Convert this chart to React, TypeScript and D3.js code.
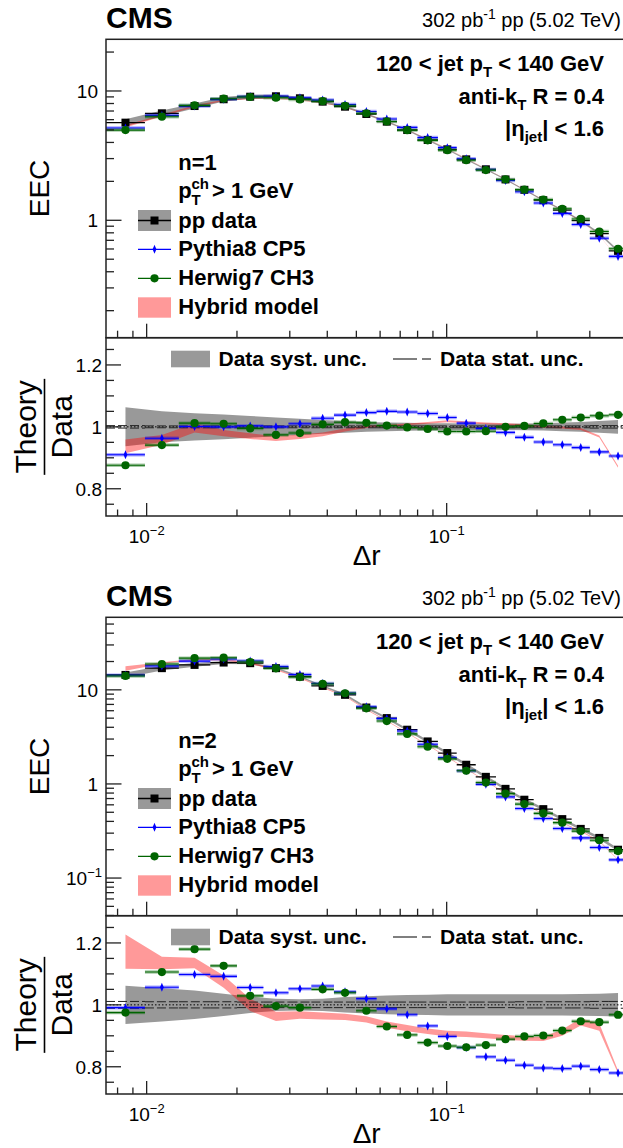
import React from 'react';
import * as d3 from 'd3';

// Δr bin edges, shared by both figures
const binEdges = [0.00732, 0.00987, 0.0128, 0.0163, 0.02, 0.0245, 0.0297, 0.0354, 0.0421, 0.0499, 0.0584, 0.0683,
  0.0799, 0.0935, 0.108, 0.125, 0.146, 0.169, 0.195, 0.226, 0.261, 0.3, 0.347, 0.4];

// n = 1
const eecData1 = [5.69, 6.72, 7.65, 8.63, 9.03, 9.1, 8.78, 8.27, 7.56, 6.64, 5.79, 4.99, 4.18, 3.54, 2.96, 2.48,
  2.07, 1.72, 1.43, 1.2, 0.994, 0.79, 0.58];
const systData1 = [0.063, 0.05, 0.044, 0.04, 0.035, 0.03, 0.026, 0.022, 0.019, 0.016, 0.014, 0.013, 0.012, 0.012,
  0.011, 0.011, 0.01, 0.011, 0.012, 0.014, 0.016, 0.019, 0.022];
const statData1 = [0.004, 0.003, 0.003, 0.003, 0.003, 0.003, 0.003, 0.003, 0.003, 0.003, 0.003, 0.003, 0.003, 0.003,
  0.003, 0.003, 0.003, 0.003, 0.003, 0.003, 0.003, 0.004, 0.004];
const pythiaRatio1 = [0.91, 0.963, 1.001, 1.0, 1.003, 1.0, 1.01, 1.028, 1.038, 1.046, 1.05, 1.048, 1.043, 1.03, 1.012,
  0.995, 0.982, 0.966, 0.951, 0.942, 0.933, 0.919, 0.906];
const herwigRatio1 = [0.876, 0.941, 1.012, 1.01, 0.995, 0.974, 0.98, 1.008, 1.015, 1.013, 1.004, 0.998, 0.993, 0.985,
  0.985, 0.986, 1.0, 1.003, 1.011, 1.023, 1.03, 1.036, 1.039];
const hybridRatio1 = [0.937, 0.958, 0.997, 0.98, 0.97, 0.962, 0.968, 0.976, 0.99, 1.0, 1.004, 1.008, 1.013, 1.018,
  1.015, 1.011, 1.009, 1.005, 1.0, 0.998, 0.993, 0.969, 0.871];
const hybridErr1 = [0.022, 0.016, 0.015, 0.01, 0.009, 0.008, 0.007, 0.006, 0.005, 0.004, 0.003, 0.003, 0.003, 0.003,
  0.003, 0.003, 0.003, 0.003, 0.003, 0.003, 0.003, 0.003, 0.003];

// n = 2
const eecData2 = [14.4, 17.0, 18.4, 19.5, 19.2, 17.0, 13.8, 11.0, 8.85, 6.49, 5.01, 3.77, 2.83, 2.13, 1.6, 1.19,
  0.887, 0.68, 0.54, 0.423, 0.333, 0.267, 0.2];
const systData2 = [0.062, 0.054, 0.046, 0.036, 0.026, 0.02, 0.018, 0.02, 0.025, 0.028, 0.03, 0.032, 0.033, 0.034,
  0.034, 0.034, 0.034, 0.034, 0.034, 0.034, 0.035, 0.036, 0.038];
const statData2 = [0.011, 0.01, 0.01, 0.01, 0.009, 0.009, 0.009, 0.009, 0.009, 0.009, 0.009, 0.009, 0.009, 0.009,
  0.009, 0.009, 0.009, 0.01, 0.01, 0.01, 0.01, 0.011, 0.011];
const pythiaRatio2 = [0.991, 1.057, 1.098, 1.092, 1.056, 1.039, 1.052, 1.061, 1.042, 1.02, 0.987, 0.968, 0.932,
  0.898, 0.862, 0.832, 0.821, 0.805, 0.796, 0.794, 0.802, 0.791, 0.78];
const herwigRatio2 = [0.975, 1.106, 1.18, 1.126, 1.029, 0.996, 0.991, 1.05, 1.039, 0.981, 0.93, 0.903, 0.878, 0.867,
  0.863, 0.87, 0.889, 0.898, 0.901, 0.917, 0.947, 0.944, 0.968];
const hybridRatio2 = [1.172, 1.135, 1.135, 1.075, 1.0, 0.963, 0.967, 0.964, 0.961, 0.953, 0.936, 0.925, 0.915, 0.907,
  0.905, 0.9, 0.895, 0.891, 0.89, 0.91, 0.945, 0.928, 0.783];
const hybridErr2 = [0.055, 0.02, 0.017, 0.02, 0.02, 0.015, 0.012, 0.011, 0.01, 0.01, 0.01, 0.01, 0.009, 0.009, 0.009,
  0.008, 0.008, 0.007, 0.007, 0.01, 0.012, 0.012, 0.005];

const eecRange1 = [0.1236, 25.1];
const eecRange2 = [0.0398, 59];
const eecTicks1 = [1, 10];
const eecTicks2 = [0.1, 1, 10];
const ratioRange = [0.712, 1.288];
const ratioTicks = [0.8, 1, 1.2];
const xMajorTicks = [0.01, 0.1];

const FONT = "'Liberation Sans', Arial, Helvetica, sans-serif";
const X0 = 106, X1 = 627.3;
const UP_TOP = 39.3, UP_BOT = 337.7, R_BOT = 516;
const AXIS = '#222';
const GREEN = '#006400';

function expLabel(v) {
  const e = Math.round(Math.log10(v));
  if (e >= 0) return { base: String(Math.round(v)), sup: '' };
  return { base: '10', sup: '\u2212' + String(-e) };
}

function Panel({ top, n, eec, syst, stat, pythia, herwig, hybrid, hybridErr, yRange, yTicks }) {
  const x = d3.scaleLog().domain([binEdges[0], binEdges[binEdges.length - 1]]).range([X0, X1]);
  const y = d3.scaleLog().domain(yRange).range([UP_BOT, UP_TOP]);
  const r = d3.scaleLinear().domain(ratioRange).range([R_BOT, UP_BOT]);

  const bins = eec.map((v, i) => {
    const lo = binEdges[i], hi = binEdges[i + 1];
    return { lo, hi, c: Math.sqrt(lo * hi), v, s: syst[i], st: stat[i], py: pythia[i], hw: herwig[i], hy: hybrid[i], he: hybridErr[i] };
  });

  const band = (y0, y1) => d3.area().x(d => x(d.c)).y0(y0).y1(y1)(bins);
  const systUp = band(d => y(d.v * (1 - d.s)), d => y(d.v * (1 + d.s)));
  const hybUp = band(d => y(d.v * d.hy * (1 - d.he)), d => y(d.v * d.hy * (1 + d.he)));
  const systR = band(d => r(1 - d.s), d => r(1 + d.s));
  const hybR = band(d => r(d.hy - d.he), d => r(d.hy + d.he));

  const xMinor = x.ticks().filter(t => !xMajorTicks.some(m => Math.abs(m - t) < 1e-9));
  const yMinor = y.ticks().filter(t => !yTicks.some(m => Math.abs(m - t) / m < 1e-6));
  const rMinor = r.ticks(12).filter(t => !ratioTicks.some(m => Math.abs(m - t) < 1e-6));

  const diamond = 'M0,-4.5L1.9,0L0,4.5L-1.9,0Z';
  const clipU = `clipU${n}`, clipR = `clipR${n}`;

  return (
    <g transform={`translate(0,${top})`} fontFamily={FONT}>
      <defs>
        <clipPath id={clipU}><rect x={X0} y={UP_TOP} width={X1 - X0} height={UP_BOT - UP_TOP} /></clipPath>
        <clipPath id={clipR}><rect x={X0} y={UP_BOT} width={X1 - X0} height={R_BOT - UP_BOT} /></clipPath>
      </defs>

      {/* header */}
      <text x={X0} y={28} fontSize={30} fontWeight="bold">CMS</text>
      <text x={621} y={27} fontSize={20} textAnchor="end">
        302 pb<tspan fontSize={14} dy={-8}>-1</tspan><tspan dy={8}> pp (5.02 TeV)</tspan>
      </text>

      {/* upper pad */}
      <g clipPath={`url(#${clipU})`}>
        <path d={systUp} fill="#999999" />
        <path d={hybUp} fill="rgba(255,0,0,0.4)" />
        {bins.map((d, i) => (
          <g key={'d' + i}>
            <line x1={x(d.lo)} x2={x(d.hi)} y1={y(d.v)} y2={y(d.v)} stroke="#000" strokeWidth={1.3} />
            <rect x={x(d.c) - 4} y={y(d.v) - 4} width={8} height={8} fill="#000" />
          </g>
        ))}
        {bins.map((d, i) => (
          <g key={'p' + i}>
            <line x1={x(d.lo)} x2={x(d.hi)} y1={y(d.v * d.py)} y2={y(d.v * d.py)} stroke="rgba(0,0,255,0.35)" strokeWidth={3.5} />
            <line x1={x(d.lo)} x2={x(d.hi)} y1={y(d.v * d.py)} y2={y(d.v * d.py)} stroke="#0000ff" strokeWidth={1.1} />
            <path d={diamond} transform={`translate(${x(d.c)},${y(d.v * d.py)})`} fill="#0000ff" />
          </g>
        ))}
        {bins.map((d, i) => (
          <g key={'h' + i}>
            <line x1={x(d.lo)} x2={x(d.hi)} y1={y(d.v * d.hw)} y2={y(d.v * d.hw)} stroke="rgba(0,100,0,0.35)" strokeWidth={3.5} />
            <line x1={x(d.lo)} x2={x(d.hi)} y1={y(d.v * d.hw)} y2={y(d.v * d.hw)} stroke={GREEN} strokeWidth={1.1} />
            <circle cx={x(d.c)} cy={y(d.v * d.hw)} r={4.1} fill={GREEN} />
          </g>
        ))}
      </g>

      {/* ratio pad */}
      <g clipPath={`url(#${clipR})`}>
        <path d={systR} fill="#999999" />
        <path d={hybR} fill="rgba(255,0,0,0.4)" />
        <line x1={X0} x2={X1} y1={r(1)} y2={r(1)} stroke="#000" strokeWidth={1} strokeDasharray="1.5 2" />
        {bins.map((d, i) => (
          <g key={'s' + i} stroke="#222" strokeWidth={1} strokeDasharray="9 3" fill="none">
            <line x1={x(d.lo)} x2={x(d.hi)} y1={r(1 + d.st)} y2={r(1 + d.st)} />
            <line x1={x(d.lo)} x2={x(d.hi)} y1={r(1 - d.st)} y2={r(1 - d.st)} />
          </g>
        ))}
        {bins.map((d, i) => (
          <g key={'rp' + i}>
            <line x1={x(d.lo)} x2={x(d.hi)} y1={r(d.py)} y2={r(d.py)} stroke="rgba(0,0,255,0.35)" strokeWidth={3.5} />
            <line x1={x(d.lo)} x2={x(d.hi)} y1={r(d.py)} y2={r(d.py)} stroke="#0000ff" strokeWidth={1.1} />
            <path d={diamond} transform={`translate(${x(d.c)},${r(d.py)})`} fill="#0000ff" />
          </g>
        ))}
        {bins.map((d, i) => (
          <g key={'rh' + i}>
            <line x1={x(d.lo)} x2={x(d.hi)} y1={r(d.hw)} y2={r(d.hw)} stroke="rgba(0,100,0,0.35)" strokeWidth={3.5} />
            <line x1={x(d.lo)} x2={x(d.hi)} y1={r(d.hw)} y2={r(d.hw)} stroke={GREEN} strokeWidth={1.1} />
            <circle cx={x(d.c)} cy={r(d.hw)} r={4.1} fill={GREEN} />
          </g>
        ))}
      </g>

      {/* frames */}
      <g stroke={AXIS} strokeWidth={1.5} fill="none">
        <rect x={X0} y={UP_TOP} width={X1 - X0} height={UP_BOT - UP_TOP} />
        <rect x={X0} y={UP_BOT} width={X1 - X0} height={R_BOT - UP_BOT} />
      </g>

      {/* ticks */}
      <g stroke={AXIS} strokeWidth={1.3}>
        {yTicks.map(t => <line key={'yt' + t} x1={X0} x2={X0 + 15.5} y1={y(t)} y2={y(t)} />)}
        {yMinor.map(t => <line key={'ym' + t} x1={X0} x2={X0 + 8} y1={y(t)} y2={y(t)} />)}
        {xMajorTicks.map(t => <line key={'xu' + t} x1={x(t)} x2={x(t)} y1={UP_BOT} y2={UP_BOT - 14} />)}
        {xMinor.map(t => <line key={'xum' + t} x1={x(t)} x2={x(t)} y1={UP_BOT} y2={UP_BOT - 7} />)}
        {xMajorTicks.map(t => <line key={'xr' + t} x1={x(t)} x2={x(t)} y1={R_BOT} y2={R_BOT - 13} />)}
        {xMinor.map(t => <line key={'xrm' + t} x1={x(t)} x2={x(t)} y1={R_BOT} y2={R_BOT - 6.5} />)}
        {ratioTicks.map(t => <line key={'rt' + t} x1={X0} x2={X0 + 15} y1={r(t)} y2={r(t)} />)}
        {rMinor.map(t => <line key={'rm' + t} x1={X0} x2={X0 + 8} y1={r(t)} y2={r(t)} />)}
      </g>

      {/* tick labels */}
      <g fontSize={19}>
        {yTicks.map(t => {
          const l = expLabel(t);
          return (
            <text key={'yl' + t} x={l.sup ? 102 : 98} y={y(t) + 7} textAnchor="end">
              {l.base}{l.sup && <tspan fontSize={13} dy={-8}>{l.sup}</tspan>}
            </text>
          );
        })}
        {ratioTicks.map(t => (
          <text key={'rl' + t} x={102} y={r(t) + 7} textAnchor="end">{String(t)}</text>
        ))}
        {xMajorTicks.map(t => {
          const l = expLabel(t);
          return (
            <text key={'xl' + t} x={x(t)} y={543} textAnchor="middle">
              {l.base}<tspan fontSize={13} dy={-8}>{l.sup}</tspan>
            </text>
          );
        })}
      </g>

      {/* axis titles */}
      <text transform={`translate(0,${(UP_TOP + UP_BOT) / 2}) rotate(-90)`} x={0} y={49} fontSize={28} textAnchor="middle">EEC</text>
      <g transform={`translate(0,${(UP_BOT + R_BOT) / 2}) rotate(-90)`}>
        <text x={0} y={35.5} fontSize={30} textAnchor="middle">Theory</text>
        <line x1={-48} x2={48} y1={44.5} y2={44.5} stroke="#000" strokeWidth={1.6} />
        <text x={0} y={71.5} fontSize={30} textAnchor="middle">Data</text>
      </g>
      <text x={(X0 + X1) / 2} y={565} fontSize={28} textAnchor="middle">{'\u0394r'}</text>

      {/* info text */}
      <g fontSize={22} fontWeight="bold" textAnchor="end">
        <text x={604} y={71}>120 &lt; jet p<tspan fontSize={15} dy={6}>T</tspan><tspan dy={-6}> &lt; 140 GeV</tspan></text>
        <text x={604} y={104}>anti-k<tspan fontSize={15} dy={6}>T</tspan><tspan dy={-6}> R = 0.4</tspan></text>
        <text x={604} y={136}>|{'\u03b7'}<tspan fontSize={15} dy={6}>jet</tspan><tspan dy={-6}>| &lt; 1.6</tspan></text>
      </g>

      {/* legend */}
      <g fontSize={22} fontWeight="bold">
        <text x={178.3} y={170}>{`n=${n}`}</text>
        <text x={178.3} y={198.3}>p</text>
        <text x={191.5} y={189} fontSize={15}>ch</text>
        <text x={191.5} y={205} fontSize={15}>T</text>
        <text x={212} y={198.3}>&gt; 1 GeV</text>

        <rect x={138} y={210} width={33} height={21} fill="#999999" />
        <line x1={138} x2={171} y1={220.5} y2={220.5} stroke="#000" strokeWidth={1.3} />
        <rect x={150.5} y={216.5} width={8} height={8} fill="#000" />
        <text x={178.3} y={227.7}>pp data</text>

        <line x1={138} x2={171} y1={249.3} y2={249.3} stroke="#0000ff" strokeWidth={1.3} />
        <path d={diamond} transform="translate(154.5,249.3)" fill="#0000ff" />
        <text x={178.3} y={256.3}>Pythia8 CP5</text>

        <line x1={138} x2={171} y1={278.3} y2={278.3} stroke={GREEN} strokeWidth={1.3} />
        <circle cx={154.5} cy={278.3} r={4.1} fill={GREEN} />
        <text x={178.3} y={285.3}>Herwig7 CH3</text>

        <rect x={138} y={297.3} width={33} height={20.4} fill="rgba(255,0,0,0.4)" />
        <text x={178.3} y={314}>Hybrid model</text>
      </g>

      <g fontSize={21} fontWeight="bold">
        <rect x={171} y={350.7} width={39} height={16.6} fill="#999999" />
        <text x={218.5} y={365.5}>Data syst. unc.</text>
        <line x1={393} x2={431} y1={359} y2={359} stroke="#000" strokeWidth={1.2} strokeDasharray="24 5 9" />
        <text x={440} y={365.5}>Data stat. unc.</text>
      </g>
    </g>
  );
}

export default function App() {
  return (
    <svg width={623} height={1148} viewBox="0 0 623 1148"
      style={{ display: 'block', position: 'absolute', left: 0, top: 0, background: '#fff' }}>
      <rect x={0} y={0} width={623} height={1148} fill="#fff" />
      <Panel top={0} n={1} eec={eecData1} syst={systData1} stat={statData1} pythia={pythiaRatio1}
        herwig={herwigRatio1} hybrid={hybridRatio1} hybridErr={hybridErr1} yRange={eecRange1} yTicks={eecTicks1} />
      <Panel top={578} n={2} eec={eecData2} syst={systData2} stat={statData2} pythia={pythiaRatio2}
        herwig={herwigRatio2} hybrid={hybridRatio2} hybridErr={hybridErr2} yRange={eecRange2} yTicks={eecTicks2} />
    </svg>
  );
}
